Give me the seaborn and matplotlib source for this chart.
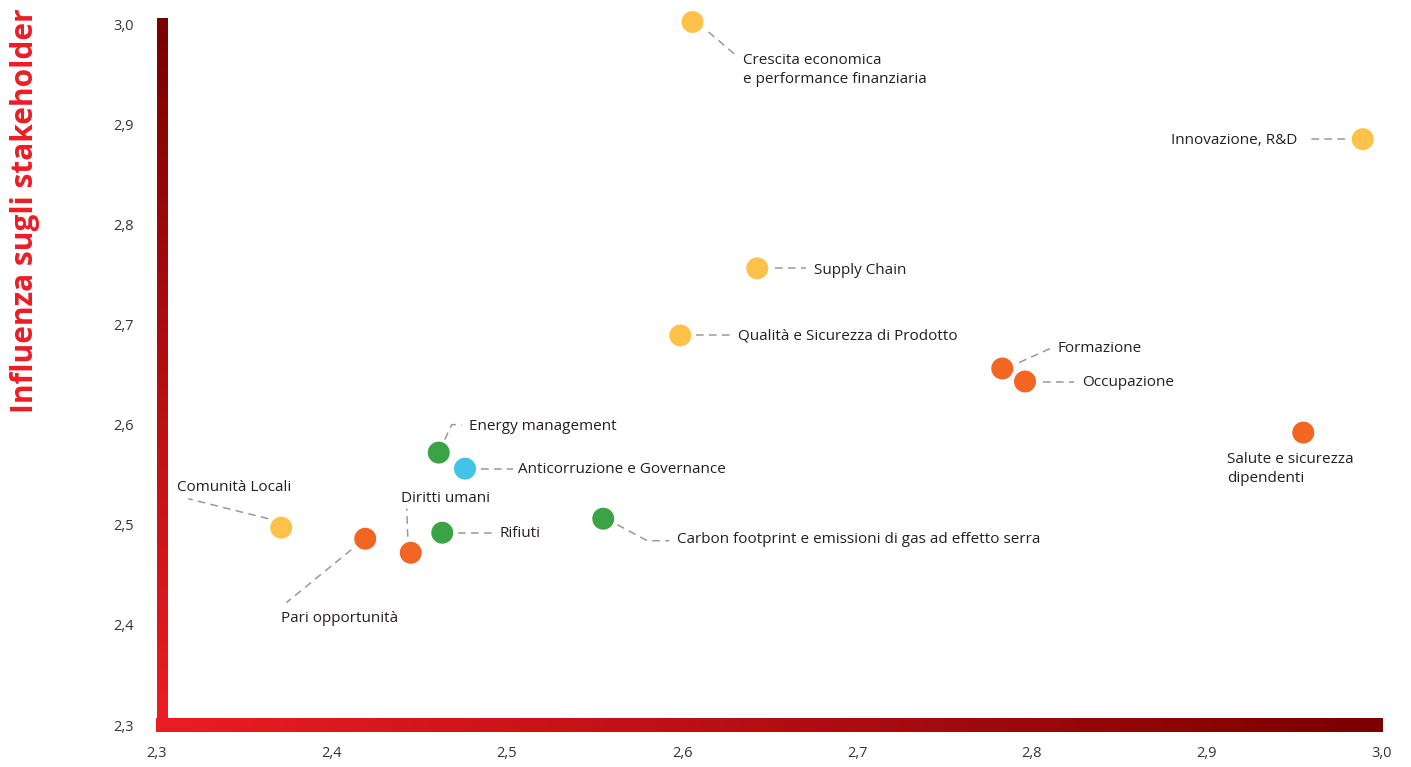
import numpy as np
import pandas as pd
import matplotlib
matplotlib.use("Agg")
import matplotlib.pyplot as plt
import seaborn as sns
from matplotlib.colors import LinearSegmentedColormap

# ---------------- data ----------------
temi = [
    "Crescita economica\ne performance finanziaria",
    "Innovazione, R&D",
    "Supply Chain",
    "Qualità e Sicurezza di Prodotto",
    "Formazione",
    "Occupazione",
    "Salute e sicurezza\ndipendenti",
    "Energy management",
    "Anticorruzione e Governance",
    "Comunità Locali",
    "Pari opportunità",
    "Diritti umani",
    "Rifiuti",
    "Carbon footprint e emissioni di gas ad effetto serra",
]
categoria = [
    "Economica", "Economica", "Economica", "Economica",
    "Sociale", "Sociale", "Sociale",
    "Ambientale", "Governance", "Economica",
    "Sociale", "Sociale", "Ambientale", "Ambientale",
]
impatto_azienda = [2.606, 2.989, 2.643, 2.599, 2.783, 2.796, 2.955,
                   2.461, 2.476, 2.371, 2.419, 2.445, 2.463, 2.555]
influenza_stakeholder = [3.002, 2.885, 2.756, 2.689, 2.656, 2.643, 2.592,
                         2.572, 2.556, 2.497, 2.486, 2.472, 2.492, 2.506]

tick_values = [2.3, 2.4, 2.5, 2.6, 2.7, 2.8, 2.9, 3.0]
tick_labels = ["2,3", "2,4", "2,5", "2,6", "2,7", "2,8", "2,9", "3,0"]

palette = {"Economica": "#FEC24A", "Sociale": "#F26522",
           "Ambientale": "#3AA345", "Governance": "#40C4E8"}

df = pd.DataFrame({"tema": temi, "categoria": categoria,
                   "x": impatto_azienda, "y": influenza_stakeholder})

# label layout: text offset (px, y down), ha, leader polyline (px, y down)
layout = {
    temi[0]: ((51, 47), "left", [(16, 10), (42, 32)]),
    temi[1]: ((-65, 0), "right", [(-18, 0), (-54, 0)]),
    temi[2]: ((57, 1), "left", [(18, 0), (49, 0)]),
    temi[3]: ((58, 0), "left", [(16, 0), (50, 0)]),
    temi[4]: ((55, -21), "left", [(17, -6), (48, -20)]),
    temi[5]: ((57, 0), "left", [(18, 0), (49, 0)]),
    temi[6]: ((-76, 35), "left", []),
    temi[7]: ((30, -27), "left", [(6, -13), (13, -28), (23, -28)]),
    temi[8]: ((53, 0), "left", [(16, 0), (48, 0)]),
    temi[9]: ((-104, -41), "left", [(-13, -9), (-93, -29)]),
    temi[10]: ((-84, 79), "left", [(-14, 11), (-79, 64)]),
    temi[11]: ((-10, -55), "left", [(-3, -16), (-4, -44)]),
    temi[12]: ((57, 0), "left", [(16, 0), (50, 0)]),
    temi[13]: ((74, 20), "left", [(14, 6), (44, 22), (66, 22)]),
}

# ---------------- style ----------------
sns.set_theme(style="white")
plt.rcParams["font.family"] = ["Open Sans", "DejaVu Sans"]

W, H = 1411, 767
L, R, T, B = 157, 1382, 24, 725
fig = plt.figure(figsize=(W / 100, H / 100), dpi=100)
ax = fig.add_axes([L / W, 1 - B / H, (R - L) / W, (B - T) / H])

xmin, xmax = tick_values[0], tick_values[-1]
ymin, ymax = tick_values[0], tick_values[-1]
sx = (xmax - xmin) / (R - L)   # data per pixel
sy = (ymax - ymin) / (B - T)

# gradient axis bars
cmap = LinearSegmentedColormap.from_list("rosso", ["#ED1C24", "#7A0000"])
grad = np.linspace(0, 1, 512)
ax.imshow(grad[np.newaxis, :], cmap=cmap, aspect="auto", origin="lower",
          extent=[xmin - 1 * sx, xmax + 1 * sx, ymin - 7 * sy, ymin + 7 * sy],
          clip_on=False, zorder=2)
ax.imshow(grad[:, np.newaxis], cmap=cmap, aspect="auto", origin="lower",
          extent=[xmin, xmin + 11 * sx, ymin, ymax + 6 * sy],
          clip_on=False, zorder=2)

sns.scatterplot(data=df, x="x", y="y", hue="categoria", palette=palette,
                s=250, linewidth=0, legend=False, ax=ax, zorder=4, clip_on=False)

for _, row in df.iterrows():
    (dx, dy), ha, leader = layout[row["tema"]]
    if leader:
        lx = [row["x"] + px * sx for px, py in leader]
        ly = [row["y"] - py * sy for px, py in leader]
        ax.plot(lx, ly, color="#999999", lw=1.1, ls=(0, (5, 3.5)),
                zorder=3, clip_on=False)
    ax.annotate(row["tema"], xy=(row["x"], row["y"]), xytext=(dx, -dy - 1),
                textcoords="offset pixels", ha=ha, va="center",
                fontsize=11, color="#231F20", linespacing=1.35,
                annotation_clip=False)

ax.set_xlim(xmin, xmax)
ax.set_ylim(ymin, ymax)
ax.set_xticks(tick_values)
ax.set_xticklabels(tick_labels)
ax.set_yticks(tick_values)
ax.set_yticklabels(tick_labels)
ax.tick_params(axis="x", length=0, pad=15, labelsize=10.5, labelcolor="#333333")
ax.tick_params(axis="y", length=0, pad=17, labelsize=10.5, labelcolor="#333333")
ax.set_xlabel("")
ax.set_ylabel("")
for sp in ax.spines.values():
    sp.set_visible(False)
ax.grid(False)

fig.text(25 / W, 1 - 211 / H, "Influenza sugli stakeholder", rotation=90,
         ha="center", va="center", fontsize=21.5, fontweight="bold",
         color="#ED1C24")

fig.savefig("out.png", dpi=100)
